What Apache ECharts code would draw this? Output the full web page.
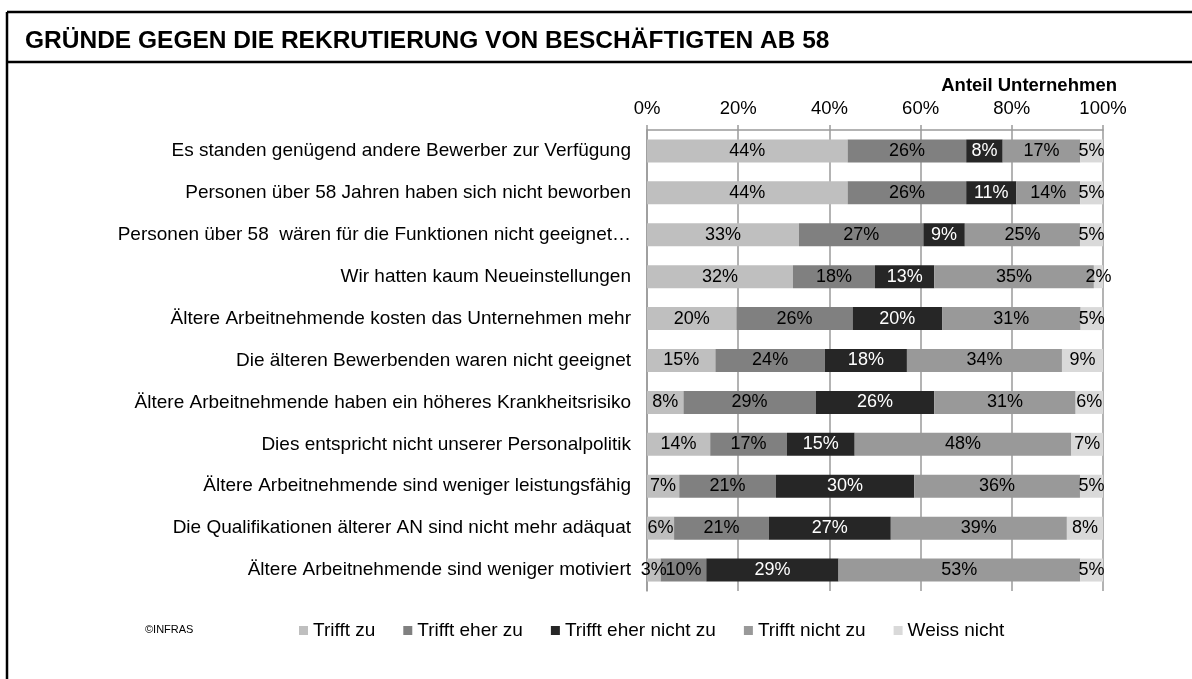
<!DOCTYPE html>
<html>
<head>
<meta charset="utf-8">
<script src="https://cdn.jsdelivr.net/npm/echarts@6/dist/echarts.min.js"></script>
<style>
  html, body { margin: 0; padding: 0; background: #fff; }
  #chart { width: 1192px; height: 679px; }
</style>
</head>
<body>
<div id="chart"></div>
<script>
const FONT = '"Liberation Sans", Arial, sans-serif'

// Gründe (von oben nach unten)
const categories = [
  'Es standen genügend andere Bewerber zur Verfügung',
  'Personen über 58 Jahren haben sich nicht beworben',
  'Personen über 58  wären für die Funktionen nicht geeignet…',
  'Wir hatten kaum Neueinstellungen',
  'Ältere Arbeitnehmende kosten das Unternehmen mehr',
  'Die älteren Bewerbenden waren nicht geeignet',
  'Ältere Arbeitnehmende haben ein höheres Krankheitsrisiko',
  'Dies entspricht nicht unserer Personalpolitik',
  'Ältere Arbeitnehmende sind weniger leistungsfähig',
  'Die Qualifikationen älterer AN sind nicht mehr adäquat',
  'Ältere Arbeitnehmende sind weniger motiviert'
]
const seriesNames = ['Trifft zu', 'Trifft eher zu', 'Trifft eher nicht zu', 'Trifft nicht zu', 'Weiss nicht']

// Anteile in % (wie beschriftet)
const trifftZu = [44, 44, 33, 32, 20, 15, 8, 14, 7, 6, 3]
const trifftEherZu = [26, 26, 27, 18, 26, 24, 29, 17, 21, 21, 10]
const trifftEherNichtZu = [8, 11, 9, 13, 20, 18, 26, 15, 30, 27, 29]
const trifftNichtZu = [17, 14, 25, 35, 31, 34, 31, 48, 36, 39, 53]
const weissNicht = [5, 5, 5, 2, 5, 9, 6, 7, 5, 8, 5]

const xTicks = [0, 20, 40, 60, 80, 100]

const colors = ['#bfbfbf', '#808080', '#262626', '#999999', '#d9d9d9']
const labelColors = ['#000', '#000', '#fff', '#000', '#000']

const raw = [trifftZu, trifftEherZu, trifftEherNichtZu, trifftNichtZu, weissNicht]
// 100%-gestapelt: jede Zeile auf 100 normieren
const totals = categories.map((c, i) => raw.reduce((s, arr) => s + arr[i], 0))

const chart = echarts.init(document.getElementById('chart'))

const series = raw.map((arr, k) => ({
  name: seriesNames[k],
  type: 'bar',
  stack: 'total',
  barWidth: 23,
  itemStyle: { color: colors[k] },
  label: {
    show: true,
    position: 'inside',
    color: labelColors[k],
    fontFamily: FONT,
    fontSize: 18,
    formatter: p => arr[p.dataIndex] + '%'
  },
  emphasis: { disabled: true },
  data: arr.map((v, i) => v / totals[i] * 100)
}))

chart.setOption({
  backgroundColor: '#fff',
  animation: false,
  textStyle: { fontFamily: FONT },
  grid: {
    left: 647,
    right: 89,
    top: 130,
    bottom: 88
  },
  legend: {
    data: seriesNames,
    left: 299,
    top: 621,
    padding: 0,
    icon: 'rect',
    itemWidth: 9,
    itemHeight: 9,
    itemGap: 28,
    textStyle: { fontFamily: FONT, fontSize: 19, color: '#000' },
    selectedMode: false
  },
  xAxis: {
    type: 'value',
    position: 'top',
    min: 0,
    max: 100,
    interval: 20,
    axisLine: { show: true, lineStyle: { color: '#9a9a9a', width: 1.5 } },
    axisTick: { show: true, length: 5, lineStyle: { color: '#9a9a9a', width: 1.5 } },
    splitLine: { show: true, lineStyle: { color: '#9a9a9a', width: 1.5 } },
    axisLabel: {
      margin: 12,
      color: '#000',
      fontFamily: FONT,
      fontSize: 18.5,
      formatter: v => (xTicks.indexOf(v) >= 0 ? v + '%' : '')
    }
  },
  yAxis: {
    type: 'category',
    inverse: true,
    data: categories,
    axisLine: { show: true, lineStyle: { color: '#9a9a9a', width: 1.5 } },
    axisTick: { show: false },
    axisLabel: {
      margin: 16,
      color: '#000',
      fontFamily: FONT,
      fontSize: 19
    }
  },
  series: series,
  graphic: [
    { type: 'line', shape: { x1: 7, y1: 12, x2: 7, y2: 679 }, style: { stroke: '#000', lineWidth: 2.5 } },
    { type: 'line', shape: { x1: 7, y1: 12, x2: 1192, y2: 12 }, style: { stroke: '#000', lineWidth: 2.5 } },
    { type: 'line', shape: { x1: 7, y1: 62, x2: 1192, y2: 62 }, style: { stroke: '#000', lineWidth: 2.5 } },
    {
      type: 'text',
      x: 25,
      y: 41,
      style: {
        text: 'GRÜNDE GEGEN DIE REKRUTIERUNG VON BESCHÄFTIGTEN AB 58',
        font: 'bold 24.5px ' + FONT,
        fill: '#000',
        verticalAlign: 'middle'
      }
    },
    {
      type: 'text',
      x: 1117,
      y: 86,
      style: {
        text: 'Anteil Unternehmen',
        font: 'bold 18.5px ' + FONT,
        fill: '#000',
        align: 'right',
        verticalAlign: 'middle'
      }
    },
    {
      type: 'text',
      x: 145,
      y: 630,
      style: {
        text: '©INFRAS',
        font: '11px ' + FONT,
        fill: '#000',
        verticalAlign: 'middle'
      }
    }
  ]
})
</script>
</body>
</html>
